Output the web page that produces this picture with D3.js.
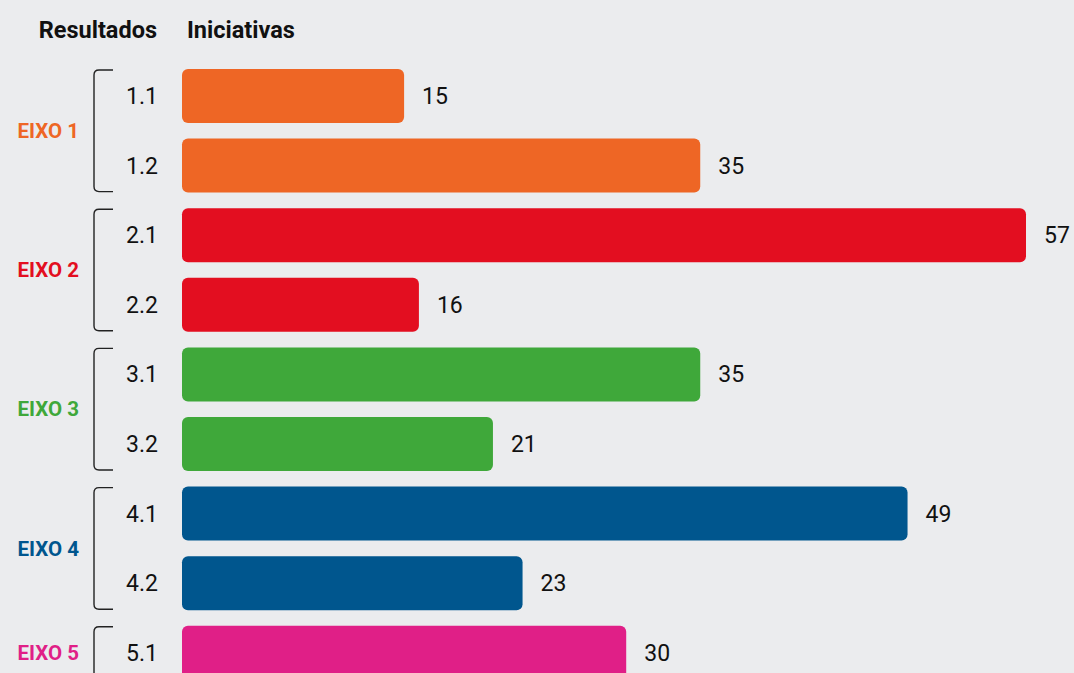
<!DOCTYPE html>
<html>
<head>
<meta charset="utf-8">
<script src="https://cdn.jsdelivr.net/npm/d3@7"></script>
<style>
  html, body { margin: 0; padding: 0; background: #ebecee; }
  svg { display: block; font-family: Roboto, "Noto Sans", sans-serif; }
</style>
</head>
<body>
<div id="chart"></div>
<script>
const codes = ['1.1', '1.2', '2.1', '2.2', '3.1', '3.2', '4.1', '4.2', '5.1']
const values = [15, 35, 57, 16, 35, 21, 49, 23, 30]
const eixos = ['EIXO 1', 'EIXO 2', 'EIXO 3', 'EIXO 4', 'EIXO 5']
const eixoOf = ['EIXO 1', 'EIXO 1', 'EIXO 2', 'EIXO 2', 'EIXO 3', 'EIXO 3', 'EIXO 4', 'EIXO 4', 'EIXO 5']
const colors = ['#ee6625', '#e30e20', '#3fa83a', '#00568e', '#e01f87']

const width = 1074, height = 673

let data = codes.map((c, i) => ({code: c, value: values[i], eixo: eixoOf[i]}))

let svg = d3.select('#chart').append('svg')
  .attr('width', width)
  .attr('height', height)

let x = d3.scaleLinear()
  .domain([0, 57])
  .range([182, 1026])

let y = d3.scaleBand()
  .domain(codes)
  .range([69, 679.8])
  .paddingInner(0.224)
  .paddingOuter(0)

let color = d3.scaleOrdinal()
  .domain(eixos)
  .range(colors)

// headers
svg.append('text')
  .attr('x', 157).attr('y', 38)
  .attr('text-anchor', 'end')
  .style('font-size', '23.5px').style('font-weight', 700).style('fill', '#111')
  .text('Resultados')

svg.append('text')
  .attr('x', 187).attr('y', 38)
  .style('font-size', '23.5px').style('font-weight', 700).style('fill', '#111')
  .text('Iniciativas')

// bars
svg.selectAll('.bar')
  .data(data)
  .enter().append('rect')
  .attr('class', 'bar')
  .attr('x', x(0))
  .attr('y', d => y(d.code))
  .attr('width', d => x(d.value) - x(0))
  .attr('height', y.bandwidth())
  .attr('rx', 6)
  .style('fill', d => color(d.eixo))

// value labels
svg.selectAll('.val')
  .data(data)
  .enter().append('text')
  .attr('class', 'val')
  .attr('x', d => x(d.value) + 18)
  .attr('y', d => y(d.code) + y.bandwidth() / 2)
  .attr('dy', '0.35em')
  .style('font-size', '23px').style('fill', '#111')
  .text(d => d.value)

// code labels
svg.selectAll('.code')
  .data(data)
  .enter().append('text')
  .attr('class', 'code')
  .attr('x', 158)
  .attr('y', d => y(d.code) + y.bandwidth() / 2)
  .attr('dy', '0.35em')
  .attr('text-anchor', 'end')
  .style('font-size', '23px').style('fill', '#111')
  .text(d => d.code)

// groups: brackets + eixo labels
let groups = eixos.map(e => {
  let items = data.filter(d => d.eixo === e)
  let top = y(items[0].code) + 1
  let bottom = y(items[items.length - 1].code) + y.bandwidth() - 1
  return {eixo: e, top: top, bottom: bottom}
})

let bx = 94, bx2 = 113, r = 5
svg.selectAll('.bracket')
  .data(groups)
  .enter().append('path')
  .attr('class', 'bracket')
  .attr('d', g => `M${bx2},${g.top} H${bx + r} Q${bx},${g.top} ${bx},${g.top + r} V${g.bottom - r} Q${bx},${g.bottom} ${bx + r},${g.bottom} H${bx2}`)
  .style('fill', 'none')
  .style('stroke', '#222')
  .style('stroke-width', 1.4)

svg.selectAll('.eixo')
  .data(groups)
  .enter().append('text')
  .attr('class', 'eixo')
  .attr('x', 79)
  .attr('y', g => (g.top + g.bottom) / 2)
  .attr('dy', '0.35em')
  .attr('text-anchor', 'end')
  .style('font-size', '20.5px').style('font-weight', 700)
  .style('fill', g => color(g.eixo))
  .text(g => g.eixo)
</script>
</body>
</html>
